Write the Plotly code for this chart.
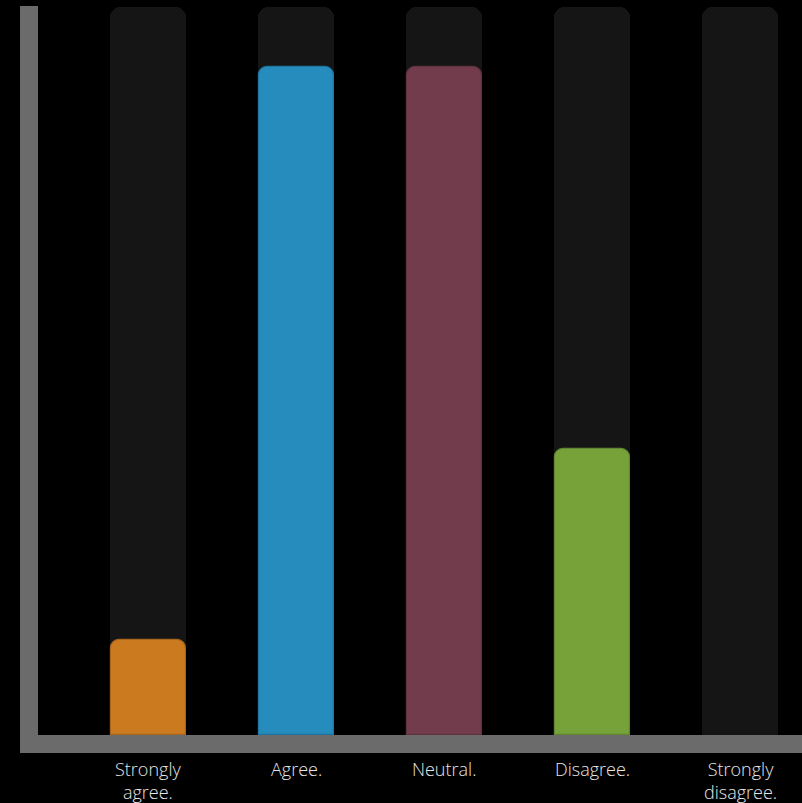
import plotly.graph_objects as go

# ---- data ----
categories = ["Strongly agree.", "Agree.", "Neutral.", "Disagree.", "Strongly disagree."]
label_line1 = ["Strongly", "Agree.", "Neutral.", "Disagree.", "Strongly"]
label_line2 = ["agree.", "", "", "", "disagree."]
values = [1, 7, 7, 3, 0]
bg_max = 7.63
colors = ["#cc7a20", "#258cbd", "#733c4c", "#77a23a", "#151515"]
edge_colors = ["#a8651c", "#1f74a0", "#5f3240", "#628631", "#151515"]

# ---- layout constants ----
W, H = 802, 803
ML, MR, MT, MB = 38, 0, 7, 68
plot_w = W - ML - MR
plot_h = H - MT - MB
slot_px = 148.0
first_center_px = 148.0
x0 = -(first_center_px - ML) / slot_px
x1 = x0 + plot_w / slot_px
bar_w = 76 / slot_px

xs = list(range(len(categories)))

fig = go.Figure()
# background track bars (base subplot)
fig.add_trace(go.Bar(x=xs, y=[bg_max] * len(xs), width=bar_w, yaxis="y",
                     marker=dict(color="#151515", cornerradius=10, line=dict(width=0)),
                     hoverinfo="skip", showlegend=False))
# main bars on an overlaid y-axis (drawn on top, rounded independently)
fig.add_trace(go.Bar(x=xs, y=values, width=bar_w - 1 / slot_px, yaxis="y2",
                     marker=dict(color=colors, cornerradius=9,
                                 line=dict(width=1.2, color=edge_colors)),
                     customdata=categories, hovertemplate="%{customdata}: %{y}<extra></extra>",
                     showlegend=False))

# axis bars
ax_col = "#6b6b6b"
fig.add_shape(type="rect", xref="paper", yref="paper",
              x0=-18 / plot_w, x1=0, y0=-18 / plot_h, y1=1 + 1 / plot_h,
              fillcolor=ax_col, line=dict(width=0), layer="above")
fig.add_shape(type="rect", xref="paper", yref="paper",
              x0=-18 / plot_w, x1=1, y0=-18 / plot_h, y1=0,
              fillcolor=ax_col, line=dict(width=0), layer="above")

lab_font = dict(family="Open Sans", size=18, color="#e6e6e6", weight=300)
for i, (a, b) in enumerate(zip(label_line1, label_line2)):
    txt = a + ("<br>" + b if b else "")
    fig.add_annotation(x=i, xref="x", y=0, yref="paper", text=txt, showarrow=False,
                       yanchor="top", yshift=-21, borderpad=0, font=lab_font)

yax = dict(range=[0, bg_max], showgrid=False, zeroline=False, showticklabels=False,
           showline=False, ticks="", fixedrange=True)
fig.update_layout(
    width=W, height=H, autosize=False,
    margin=dict(l=ML, r=MR, t=MT, b=MB),
    paper_bgcolor="#000000", plot_bgcolor="#000000",
    barmode="overlay", bargap=0,
    xaxis=dict(range=[x0, x1], showgrid=False, zeroline=False, showticklabels=False,
               showline=False, ticks="", fixedrange=True),
    yaxis=yax,
    yaxis2=dict(yax, overlaying="y"),
)

fig.write_html("out.html")
